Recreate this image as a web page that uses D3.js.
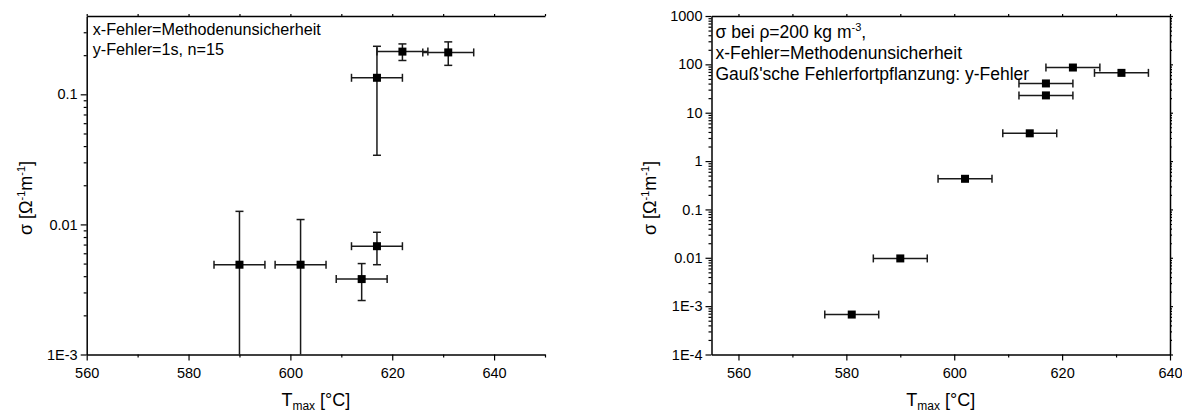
<!DOCTYPE html>
<html>
<head>
<meta charset="utf-8">
<script src="https://cdn.jsdelivr.net/npm/d3@7"></script>
<style>
  body { margin: 0; background: #fff; }
  svg { display: block; }
  text { font-family: "Liberation Sans", Arial, sans-serif; fill: #000; }
</style>
</head>
<body>
<svg id="chart" width="1182" height="414"></svg>
<script>
// Left panel: measured conductivity, mean ± 1s (n = 15), x error = method uncertainty
const tLeft = [590, 602, 614, 617, 617, 622, 631];
const sigmaLeft = [0.0049, 0.0049, 0.0038, 0.0068, 0.134, 0.213, 0.21];
const sdLeft = [0.0077, 0.006, 0.0012, 0.0019, 0.1, 0.031, 0.043];
const tErrLeft = [5, 5, 5, 5, 5, 5, 5];

// Right panel: conductivity normalised to a density of 200 kg m^-3
const tRight = [581, 590, 602, 614, 617, 617, 622, 631];
const sigmaRight = [0.00067, 0.0097, 0.43, 3.75, 22.8, 40.3, 86, 66.7];
const tErrRight = [5, 5, 5, 5, 5, 5, 5, 5];

// Axis ticks and labels
const xTicksLeft = [560, 580, 600, 620, 640];
const xMinorLeft = [570, 590, 610, 630, 650];
const yTicksLeft = [0.001, 0.01, 0.1];
const yTickLabelsLeft = ["1E-3", "0.01", "0.1"];

const xTicksRight = [560, 580, 600, 620, 640];
const xMinorRight = [570, 590, 610, 630];
const yTicksRight = [1e-4, 1e-3, 0.01, 0.1, 1, 10, 100, 1000];
const yTickLabelsRight = ["1E-4", "1E-3", "0.01", "0.1", "1", "10", "100", "1000"];

const legendLeft = ["x-Fehler=Methodenunsicherheit", "y-Fehler=1s, n=15"];
const legendRight2 = "x-Fehler=Methodenunsicherheit";
const legendRight3 = "Gauß'sche Fehlerfortpflanzung: y-Fehler";

const svg = d3.select("#chart");
const AXIS_W = 1.5;
const BAR_COLOR = "#1a1a1a";

function logMinors(domain) {
  const out = [];
  const lo = Math.floor(Math.log10(domain[0]));
  const hi = Math.ceil(Math.log10(domain[1]));
  for (let e = lo; e < hi; e++) {
    for (let k = 2; k <= 9; k++) {
      const v = k * Math.pow(10, e);
      if (v > domain[0] * 1.0001 && v < domain[1] * 0.9999) out.push(v);
    }
  }
  return out;
}

function styleAxis(sel) {
  sel.selectAll(".domain").attr("stroke", "#000").attr("stroke-width", AXIS_W);
  sel.selectAll(".tick line").attr("stroke", "#000").attr("stroke-width", 1.2);
  sel.selectAll(".tick text")
    .style("font-family", '"Liberation Sans", Arial, sans-serif')
    .style("font-size", "14.5px").attr("fill", "#000");
}

function panel(opt) {
  const g = svg.append("g");
  const x = d3.scaleLinear().domain(opt.xDomain).range([opt.left, opt.right]);
  const y = d3.scaleLog().domain(opt.yDomain).range([opt.bottom, opt.top]);
  const yMinor = logMinors(opt.yDomain);

  // bottom axis
  const bx = g.append("g").attr("transform", `translate(0,${opt.bottom})`)
    .call(d3.axisBottom(x).tickValues(opt.xTicks).tickSize(6).tickSizeOuter(0).tickPadding(6).tickFormat(d3.format("d")));
  styleAxis(bx);
  bx.selectAll(".tick text").attr("dy", "0.8em");
  const bxm = g.append("g").attr("transform", `translate(0,${opt.bottom})`)
    .call(d3.axisBottom(x).tickValues(opt.xMinor).tickSize(3).tickSizeOuter(0).tickFormat(""));
  styleAxis(bxm);
  bxm.select(".domain").remove();

  // top axis (mirrored, short ticks)
  const tx = g.append("g").attr("transform", `translate(0,${opt.top})`)
    .call(d3.axisTop(x).tickValues(opt.xTicks.concat(opt.xMinor)).tickSize(2).tickSizeOuter(0).tickFormat(""));
  styleAxis(tx);

  // left axis
  const ly = g.append("g").attr("transform", `translate(${opt.left},0)`)
    .call(d3.axisLeft(y).tickValues(opt.yTicks).tickSize(6).tickSizeOuter(0).tickPadding(3)
      .tickFormat((d, i) => opt.yLabels[i]));
  styleAxis(ly);
  const lym = g.append("g").attr("transform", `translate(${opt.left},0)`)
    .call(d3.axisLeft(y).tickValues(yMinor).tickSize(3).tickSizeOuter(0).tickFormat(""));
  styleAxis(lym);
  lym.select(".domain").remove();

  // right axis (mirrored, no labels)
  if (opt.rightFrame) {
    const ry = g.append("g").attr("transform", `translate(${opt.right},0)`)
      .call(d3.axisRight(y).tickValues(opt.yTicks).tickSize(3).tickSizeOuter(0).tickFormat(""));
    styleAxis(ry);
    const rym = g.append("g").attr("transform", `translate(${opt.right},0)`)
      .call(d3.axisRight(y).tickValues(yMinor).tickSize(2).tickSizeOuter(0).tickFormat(""));
    styleAxis(rym);
    rym.select(".domain").remove();
  }

  // error bars and markers
  const cap = 4;
  const ymin = opt.yDomain[0];
  const pts = g.append("g");
  opt.t.forEach((t, i) => {
    const cx = x(t), cy = y(opt.s[i]);
    const e = pts.append("g").attr("stroke", BAR_COLOR).attr("stroke-width", 1.5).attr("fill", "none");
    // x error
    const xl = x(t - opt.tErr[i]), xr = x(t + opt.tErr[i]);
    e.append("line").attr("x1", xl).attr("x2", xr).attr("y1", cy).attr("y2", cy);
    e.append("line").attr("x1", xl).attr("x2", xl).attr("y1", cy - cap).attr("y2", cy + cap);
    e.append("line").attr("x1", xr).attr("x2", xr).attr("y1", cy - cap).attr("y2", cy + cap);
    // y error
    if (opt.sd) {
      const hi = opt.s[i] + opt.sd[i];
      const loVal = opt.s[i] - opt.sd[i];
      const yh = y(hi);
      const yl = loVal > ymin ? y(loVal) : y(ymin);
      e.append("line").attr("x1", cx).attr("x2", cx).attr("y1", yh).attr("y2", yl);
      e.append("line").attr("x1", cx - cap).attr("x2", cx + cap).attr("y1", yh).attr("y2", yh);
      if (loVal > ymin) {
        e.append("line").attr("x1", cx - cap).attr("x2", cx + cap).attr("y1", yl).attr("y2", yl);
      }
    }
  });
  pts.selectAll("rect.pt").data(opt.t).join("rect")
    .attr("class", "pt")
    .attr("x", (d) => x(d) - 4).attr("y", (d, i) => y(opt.s[i]) - 4)
    .attr("width", 8).attr("height", 8).attr("fill", "#000");

  // axis titles
  const xt = g.append("text")
    .attr("x", (opt.left + opt.right) / 2).attr("y", 406)
    .attr("text-anchor", "middle").style("font-size", "18px");
  xt.append("tspan").text("T");
  xt.append("tspan").attr("dy", 4).style("font-size", "12px").text("max");
  xt.append("tspan").attr("dy", -4).text(" [°C]");

  const yt = g.append("text")
    .attr("transform", `translate(${opt.yTitleX},198) rotate(-90)`)
    .attr("text-anchor", "middle").style("font-size", "18px");
  yt.append("tspan").text("σ [Ω");
  yt.append("tspan").attr("dy", -7).style("font-size", "11px").text("-1");
  yt.append("tspan").attr("dy", 7).text("m");
  yt.append("tspan").attr("dy", -7).style("font-size", "11px").text("-1");
  yt.append("tspan").attr("dy", 7).text("]");

  return { g, x, y };
}

const L = panel({
  xDomain: [560, 650], yDomain: [0.001, 0.4],
  left: 86.7, right: 545, top: 16, bottom: 354.5,
  xTicks: xTicksLeft, xMinor: xMinorLeft,
  yTicks: yTicksLeft, yLabels: yTickLabelsLeft,
  t: tLeft, s: sigmaLeft, sd: sdLeft, tErr: tErrLeft,
  rightFrame: false, yTitleX: 32
});

const R = panel({
  xDomain: [555, 640], yDomain: [1e-4, 1000],
  left: 711.5, right: 1170, top: 16, bottom: 354.5,
  xTicks: xTicksRight, xMinor: xMinorRight,
  yTicks: yTicksRight, yLabels: yTickLabelsRight,
  t: tRight, s: sigmaRight, sd: null, tErr: tErrRight,
  rightFrame: true, yTitleX: 656
});

// legend texts
legendLeft.forEach((s, i) => {
  L.g.append("text").attr("x", 92.7).attr("y", 35 + i * 20).style("font-size", "16.2px").text(s);
});

const r1 = R.g.append("text").attr("x", 715.5).attr("y", 37.5).style("font-size", "17.5px");
r1.append("tspan").text("σ bei ρ=200 kg m");
r1.append("tspan").attr("dy", -7).style("font-size", "11px").text("-3");
r1.append("tspan").attr("dy", 7).text(",");
R.g.append("text").attr("x", 715.5).attr("y", 58.5).style("font-size", "17.5px").text(legendRight2);
R.g.append("text").attr("x", 715.5).attr("y", 79.5).style("font-size", "17.5px").text(legendRight3);
</script>
</body>
</html>
